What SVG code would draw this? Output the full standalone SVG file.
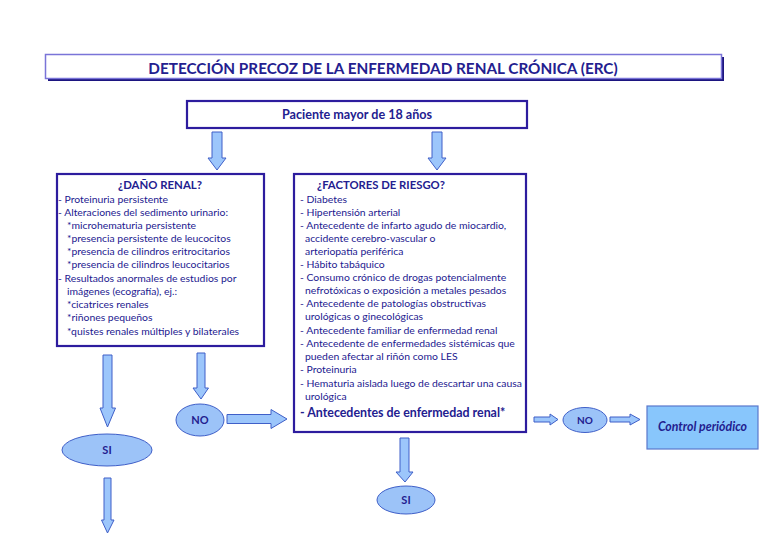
<svg xmlns="http://www.w3.org/2000/svg" width="768" height="543" viewBox="0 0 768 543">
<style>
text{font-family:Lato,"Noto Sans","Liberation Sans",sans-serif;fill:#23208f}
.t{font-size:10.4px}
.b{font-weight:bold}
.box{fill:#fff;stroke:#2d1c9e;stroke-width:2.2}
.arr{fill:#9cc6fb;stroke:#3f5fc8;stroke-width:1}
.ell{fill:#9cc3f8;stroke:#3f5fc8;stroke-width:1}
</style>
<rect width="768" height="543" fill="#fff"/>
<g id="title">
<rect x="48" y="57" width="676" height="24" fill="#1c1580"/>
<rect x="45.5" y="54.5" width="676" height="24" fill="#fff" stroke="#7a74d8" stroke-width="1.5"/>
<text x="383" y="74" text-anchor="middle" class="b" font-size="15.3">DETECCIÓN PRECOZ DE LA ENFERMEDAD RENAL CRÓNICA (ERC)</text>
</g>
<g id="paciente">
<rect x="187" y="101" width="340" height="27" class="box"/>
<text x="357" y="119" text-anchor="middle" class="b" font-size="12.6">Paciente mayor de 18 años</text>
</g>
<g id="dano">
<rect x="57" y="174" width="207" height="172" class="box"/>
<text x="160" y="189" text-anchor="middle" class="b" font-size="11.4">¿DAÑO RENAL?</text>
<text class="t" x="58">
<tspan x="58" y="203">- Proteinuria persistente</tspan>
<tspan x="58" y="216">- Alteraciones del sedimento urinario:</tspan>
<tspan x="67" y="229">*microhematuria persistente</tspan>
<tspan x="67" y="242">*presencia persistente de leucocitos</tspan>
<tspan x="67" y="255">*presencia de cilindros eritrocitarios</tspan>
<tspan x="67" y="268">*presencia de cilindros leucocitarios</tspan>
<tspan x="58" y="282">- Resultados anormales de estudios por</tspan>
<tspan x="67" y="295">imágenes (ecografía), ej.:</tspan>
<tspan x="67" y="308">*cicatrices renales</tspan>
<tspan x="67" y="321">*riñones pequeños</tspan>
<tspan x="67" y="335">*quistes renales múltiples y bilaterales</tspan>
</text>
</g>
<g id="factores">
<rect x="294" y="174" width="232" height="258" class="box"/>
<text x="381" y="189" text-anchor="middle" class="b" font-size="11.3">¿FACTORES DE RIESGO?</text>
<text class="t">
<tspan x="300" y="203">- Diabetes</tspan>
<tspan x="300" y="216">- Hipertensión arterial</tspan>
<tspan x="300" y="229">- Antecedente de infarto agudo de miocardio,</tspan>
<tspan x="305" y="242">accidente cerebro-vascular o</tspan>
<tspan x="305" y="255">arteriopatía periférica</tspan>
<tspan x="300" y="268">- Hábito tabáquico</tspan>
<tspan x="300" y="281">- Consumo crónico de drogas potencialmente</tspan>
<tspan x="305" y="294">nefrotóxicas o exposición a metales pesados</tspan>
<tspan x="300" y="307">- Antecedente de patologías obstructivas</tspan>
<tspan x="305" y="320">urológicas o ginecológicas</tspan>
<tspan x="300" y="334">- Antecedente familiar de enfermedad renal</tspan>
<tspan x="300" y="347">- Antecedente de enfermedades sistémicas que</tspan>
<tspan x="305" y="360">pueden afectar al riñón como LES</tspan>
<tspan x="300" y="373">- Proteinuria</tspan>
<tspan x="300" y="387">- Hematuria aislada luego de descartar una causa</tspan>
<tspan x="305" y="400">urológica</tspan>
</text>
<text x="300" y="417" class="b" font-size="12.4">- Antecedentes de enfermedad renal*</text>
</g>
<g id="si1">
<ellipse cx="107" cy="450" rx="45" ry="16" class="ell"/>
<text x="107" y="454" text-anchor="middle" class="b" font-size="11">SI</text>
</g>
<g id="no1">
<ellipse cx="200" cy="420" rx="24" ry="16" class="ell"/>
<text x="200" y="424" text-anchor="middle" class="b" font-size="11">NO</text>
</g>
<g id="si2">
<ellipse cx="406" cy="500" rx="29" ry="14" class="ell"/>
<text x="406" y="504" text-anchor="middle" class="b" font-size="11">SI</text>
</g>
<g id="no2">
<ellipse cx="585" cy="420" rx="22" ry="12.5" class="ell"/>
<text x="585" y="424" text-anchor="middle" class="b" font-size="10">NO</text>
</g>
<g id="control">
<rect x="647" y="406" width="111" height="43" fill="#88c6fc" stroke="#5a78cc" stroke-width="1.2"/>
<text x="702.5" y="431" text-anchor="middle" class="b" font-size="12.3" font-style="italic">Control periódico</text>
</g>
<g id="connectors">
<polygon class="arr" points="212,132 222,132 222,158 226,158 217,170 208,158 212,158"/>
<polygon class="arr" points="432,132 442,132 442,158 446,158 437,170 428,158 432,158"/>
<polygon class="arr" points="103,355 112,355 112,408 115.5,408 107.5,427 100,408 103,408"/>
<polygon class="arr" points="197,353 205,353 205,388 208.5,388 201,399 193,388 197,388"/>
<polygon class="arr" points="104,478 111,478 111,520 114,520 107.5,533 101.5,520 104,520"/>
<polygon class="arr" points="227,414.5 271,414.5 271,409.5 287,419 271,428.5 271,423.5 227,423.5"/>
<polygon class="arr" points="400,438 409,438 409,472 413,472 405,482 396,472 400,472"/>
<polygon class="arr" points="534,417 550,417 550,414 558,419.5 550,425 550,422 534,422"/>
<polygon class="arr" points="610,417 630,417 630,414 640,419.5 630,425 630,422 610,422"/>
</g>
</svg>
